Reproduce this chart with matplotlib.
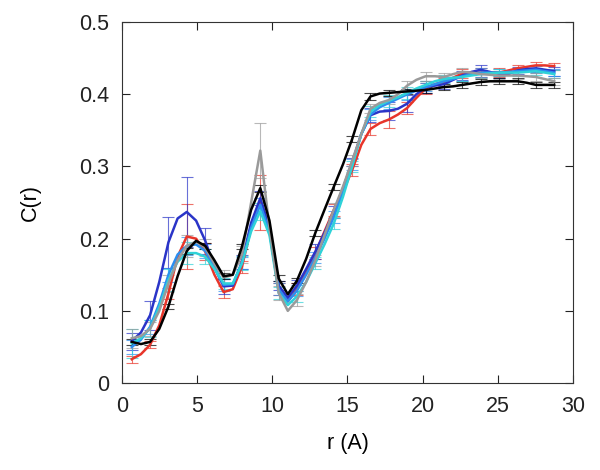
import matplotlib
matplotlib.use('Agg')
import matplotlib.pyplot as plt

plt.rcParams['font.family'] = ['Liberation Sans', 'DejaVu Sans']

# r grid (A); error bars are drawn on every second point
r = [0.65, 1.26, 1.87, 2.48, 3.09, 3.70, 4.31, 4.93, 5.54, 6.15, 6.76, 7.37,
     7.98, 8.59, 9.20, 9.81, 10.42, 11.03, 11.64, 12.25, 12.86, 13.47, 14.09,
     14.70, 15.31, 15.92, 16.53, 17.14, 17.75, 18.36, 18.97, 19.58, 20.20,
     20.81, 21.42, 22.03, 22.64, 23.25, 23.86, 24.47, 25.08, 25.70, 26.31,
     26.92, 27.53, 28.14, 28.75]

c_black = [0.057, 0.054, 0.057, 0.075, 0.106, 0.148, 0.183, 0.197, 0.190, 0.170,
           0.148, 0.150, 0.189, 0.240, 0.270, 0.225, 0.145, 0.123, 0.142, 0.172,
           0.208, 0.240, 0.272, 0.303, 0.338, 0.378, 0.397, 0.401, 0.402, 0.403,
           0.404, 0.405, 0.406, 0.408, 0.410, 0.411, 0.413, 0.415, 0.417, 0.418,
           0.418, 0.418, 0.418, 0.416, 0.413, 0.413, 0.413]
c_gray = [0.062, 0.065, 0.075, 0.100, 0.138, 0.170, 0.190, 0.196, 0.188, 0.165,
          0.146, 0.150, 0.178, 0.250, 0.322, 0.215, 0.125, 0.100, 0.115, 0.140,
          0.170, 0.205, 0.240, 0.272, 0.308, 0.345, 0.380, 0.388, 0.392, 0.400,
          0.412, 0.420, 0.425, 0.425, 0.424, 0.428, 0.431, 0.430, 0.428, 0.427,
          0.426, 0.426, 0.426, 0.425, 0.424, 0.421, 0.418]
c_blue = [0.058, 0.070, 0.094, 0.140, 0.195, 0.228, 0.237, 0.225, 0.197, 0.160,
          0.134, 0.135, 0.168, 0.222, 0.256, 0.215, 0.135, 0.118, 0.135, 0.158,
          0.182, 0.208, 0.237, 0.270, 0.306, 0.345, 0.371, 0.376, 0.377, 0.380,
          0.387, 0.400, 0.410, 0.412, 0.414, 0.420, 0.426, 0.431, 0.434, 0.431,
          0.427, 0.428, 0.433, 0.435, 0.436, 0.434, 0.432]
c_red = [0.033, 0.040, 0.053, 0.080, 0.124, 0.175, 0.203, 0.200, 0.182, 0.150,
         0.126, 0.130, 0.161, 0.215, 0.250, 0.210, 0.130, 0.113, 0.130, 0.152,
         0.180, 0.210, 0.240, 0.265, 0.295, 0.330, 0.352, 0.360, 0.365, 0.372,
         0.381, 0.395, 0.408, 0.414, 0.417, 0.423, 0.429, 0.430, 0.430, 0.430,
         0.430, 0.433, 0.436, 0.438, 0.440, 0.440, 0.439]
c_cyan = [0.055, 0.062, 0.076, 0.105, 0.143, 0.168, 0.180, 0.180, 0.175, 0.158,
          0.138, 0.138, 0.166, 0.210, 0.238, 0.205, 0.125, 0.108, 0.120, 0.140,
          0.166, 0.192, 0.221, 0.258, 0.300, 0.345, 0.376, 0.385, 0.391, 0.396,
          0.402, 0.408, 0.413, 0.418, 0.421, 0.423, 0.424, 0.426, 0.428, 0.429,
          0.430, 0.430, 0.430, 0.431, 0.432, 0.430, 0.428]
c_sky = [0.050, 0.060, 0.078, 0.110, 0.150, 0.178, 0.190, 0.192, 0.183, 0.160,
         0.136, 0.137, 0.166, 0.215, 0.247, 0.210, 0.130, 0.113, 0.128, 0.150,
         0.174, 0.200, 0.230, 0.265, 0.303, 0.345, 0.372, 0.382, 0.388, 0.394,
         0.400, 0.405, 0.410, 0.414, 0.418, 0.421, 0.425, 0.428, 0.430, 0.430,
         0.430, 0.431, 0.432, 0.433, 0.434, 0.432, 0.430]

e_black = [0.004, 0.004, 0.004, 0.004, 0.004, 0.004, 0.004, 0.005, 0.004, 0.004,
           0.004, 0.004, 0.004, 0.005, 0.004, 0.004, 0.004, 0.004, 0.004, 0.004,
           0.004, 0.004, 0.004, 0.004]
e_gray = [0.013, 0.010, 0.012, 0.015, 0.012, 0.010, 0.012, 0.038, 0.010, 0.008,
          0.008, 0.010, 0.008, 0.006, 0.006, 0.006, 0.006, 0.005, 0.005, 0.005,
          0.005, 0.005, 0.005, 0.005]
e_blue = [0.012, 0.020, 0.035, 0.048, 0.018, 0.010, 0.010, 0.010, 0.006, 0.008,
          0.010, 0.008, 0.006, 0.010, 0.012, 0.012, 0.008, 0.006, 0.006, 0.006,
          0.005, 0.005, 0.005, 0.006]
e_red = [0.005, 0.005, 0.008, 0.045, 0.012, 0.008, 0.008, 0.038, 0.008, 0.008,
         0.008, 0.008, 0.008, 0.008, 0.012, 0.008, 0.008, 0.006, 0.006, 0.006,
         0.006, 0.005, 0.005, 0.005]
e_cyan = [0.020, 0.012, 0.015, 0.015, 0.010, 0.008, 0.010, 0.012, 0.008, 0.008,
          0.008, 0.008, 0.008, 0.008, 0.008, 0.008, 0.006, 0.006, 0.006, 0.006,
          0.005, 0.005, 0.005, 0.005]
e_sky = [0.010, 0.010, 0.010, 0.012, 0.010, 0.008, 0.008, 0.010, 0.008, 0.008,
         0.008, 0.008, 0.008, 0.008, 0.008, 0.008, 0.006, 0.006, 0.006, 0.006,
         0.005, 0.005, 0.005, 0.005]

series = [
    (c_red, e_red, '#e8352a'),
    (c_blue, e_blue, '#2a34c8'),
    (c_sky, e_sky, '#2b8ef0'),
    (c_cyan, e_cyan, '#2fd2d8'),
    (c_gray, e_gray, '#9a9a9a'),
    (c_black, e_black, '#000000'),
]

fig = plt.figure(figsize=(6.0, 4.7), dpi=100)
ax = fig.add_axes([0.2033, 0.185, 0.7517, 0.768])

for vals, errs, col in series:
    ax.plot(r, vals, color=col, lw=1.8, zorder=3, solid_joinstyle='round')
    ax.errorbar(r[::2], vals[::2], yerr=errs, fmt='none', ecolor=col,
                elinewidth=0.8, capsize=4.5, capthick=0.8, alpha=0.7, zorder=2)

ax.set_xlim(0, 30)
ax.set_ylim(0, 0.5)
ax.set_xticks([0, 5, 10, 15, 20, 25, 30])
ax.set_yticks([0, 0.1, 0.2, 0.3, 0.4, 0.5])
ax.set_yticklabels(['0', '0.1', '0.2', '0.3', '0.4', '0.5'])
ax.tick_params(direction='in', length=6, width=0.8, top=True, right=True,
               labelsize=15.5, pad=9, colors='#222222')
for s in ax.spines.values():
    s.set_linewidth(0.8)
    s.set_color('#333333')

ax.set_xlabel('r (A)', fontsize=15.5, labelpad=12)
ax.set_ylabel('C(r)', fontsize=15.5, labelpad=28)

fig.savefig('out.png', dpi=100)
